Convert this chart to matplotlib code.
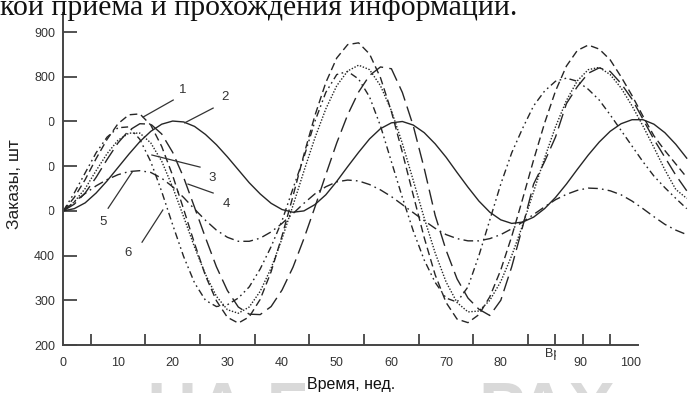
import matplotlib
matplotlib.use("Agg")
import matplotlib.pyplot as plt
from matplotlib.ticker import FixedLocator
from matplotlib.transforms import Bbox, TransformedBbox

plt.rcParams['font.family'] = ['Liberation Sans', 'DejaVu Sans']

# weeks 0..114, every 2 weeks
weeks = list(range(0, 115, 2))

dash_1 = [500, 530, 570, 617, 660, 695, 715,
          717, 692, 644, 579, 504, 427, 355, 299, 262, 249,
          263, 302, 364, 444, 533, 626, 713, 787, 842, 872,
          876, 851, 798, 722, 631, 535, 440, 357, 295, 258,
          250, 268, 308, 368, 443, 527, 614, 696, 768, 824, 859, 871,
          862, 838, 800, 758, 712, 668, 635, 605, 575]

solid_2 = [500, 505, 518, 540, 567, 597, 627, 655, 678, 694, 701,
           699, 689, 671, 648, 621, 592, 563, 538, 517, 503, 497,
           500, 514, 536, 566, 599, 631, 661, 684, 697,
           700, 692, 675, 650, 620, 586, 553, 522, 497, 480, 472,
           475, 486, 505, 530, 560, 593, 625, 654, 678, 695, 704,
           704, 694, 675, 649, 618]

dotted_3 = [500, 520, 550, 590, 628, 658, 674,
            674, 652, 611, 553, 487, 419, 358, 309, 279,
            271, 285, 320, 372, 438, 512, 589, 663, 728, 780, 813, 826,
            816, 780, 724, 651, 568, 484, 406, 341, 295, 274,
            276, 300, 342, 400, 468, 543, 618, 688, 747, 791, 816,
            821, 805, 775, 735, 690, 642, 592, 548, 528]

longdash_4 = [500, 515, 540, 575, 615, 652, 680, 695,
              694, 672, 631, 575, 508, 440, 375, 322, 285, 269,
              268, 286, 323, 374, 438, 508, 581, 652, 715, 766, 803, 822,
              818, 765, 690, 595, 490, 412, 348, 305, 280, 266,
              300, 375, 465, 560, 610, 665, 740, 778, 808, 820,
              812, 785, 750, 705, 660, 620, 580, 545]

dashdot_5 = [500, 520, 539, 556, 570, 581, 588, 590,
             586, 573, 554, 530, 504, 479, 457, 441, 432,
             432, 439, 453, 472, 494, 517, 538, 554, 565, 569,
             567, 559, 547, 532, 514, 496, 478, 461, 447, 438, 433,
             433, 438, 447, 460, 475, 492, 509, 525, 537, 546, 551,
             550, 545, 536, 522, 505, 487, 470, 457, 447]

dashdotdot_6 = [500, 540, 585, 630, 665, 686, 688,
                660, 610, 543, 469, 398, 339, 300, 286,
                290, 305, 330, 370, 420, 478, 550, 620, 700, 765, 805, 812, 795,
                755, 690, 610, 530, 455, 390, 340, 305, 296,
                330, 400, 480, 560, 630, 685, 735, 768, 790, 797, 790,
                772, 748, 715, 680, 645, 610, 578, 552, 528, 505]

# curve numbers with their leader lines (data coords)
curve_ids = ['1', '2', '3', '4', '5', '6']
leader_from = [(14.6, 710), (22.2, 697), (16.2, 625), (22.8, 560), (12.6, 587), (18.2, 502)]
leader_to = [(20.1, 748), (27.4, 730), (25.0, 598), (27.4, 540), (8.2, 506), (14.4, 430)]
id_pos = [(21.9, 770), (29.5, 755), (27.2, 574), (29.9, 515), (7.3, 475), (11.8, 406)]

y_ticks = [200, 300, 400, 500, 600, 700, 800, 900]
x_marks = list(range(5, 101, 5))
x_labels = ['0', '10', '20', '30', '40', '50', '60', '70', '80', '90', '100']
x_label_pos = [0, 10, 20, 30, 40, 50, 60, 70, 80, 94.5, 103.8]

ink = '#262626'

fig = plt.figure(figsize=(6.9, 3.93), dpi=100)
ax = fig.add_axes([63.3 / 690, 48 / 393, 1 - 63.3 / 690, 345 / 393])
ax.set_xlim(0, 114.6)
ax.set_ylim(200, 971.8)

ax.plot(weeks, solid_2, color=ink, lw=1.0, ls='-')
ax.plot(weeks, dash_1, color=ink, lw=1.0, ls=(0, (5.5, 3)))
ax.plot(weeks, dotted_3, color=ink, lw=1.0, ls=(0, (1, 1.2)))
ax.plot(weeks, longdash_4, color=ink, lw=1.0, ls=(0, (11, 4.5)))
ax.plot(weeks, dashdot_5, color=ink, lw=1.0, ls=(0, (7, 3, 1.2, 3)))
ax.plot(weeks, dashdotdot_6, color=ink, lw=1.0, ls=(0, (5, 2.5, 1.2, 2.5, 1.2, 2.5)))

for cid, a, b, p in zip(curve_ids, leader_from, leader_to, id_pos):
    ax.plot([a[0], b[0]], [a[1], b[1]], color='#333333', lw=0.9)
    ax.text(p[0], p[1], cid, fontsize=9.5, color='#333333', ha='center', va='center')

for s in ['top', 'right']:
    ax.spines[s].set_visible(False)
for s in ['left', 'bottom']:
    ax.spines[s].set_color('#444444')
    ax.spines[s].set_linewidth(1.4)
ax.spines['left'].set_bounds(200, 943)
ax.spines['bottom'].set_bounds(0, 105)

ax.set_yticks(y_ticks, [str(v) for v in y_ticks])
ax.tick_params(axis='y', direction='in', length=10, width=1.3, pad=6,
               labelsize=9, labelcolor='#333333', color='#444444')
ax.set_xticks(x_label_pos, x_labels)
ax.xaxis.set_minor_locator(FixedLocator(x_marks))
ax.tick_params(axis='x', which='major', length=0, pad=9,
               labelsize=9, labelcolor='#333333')
ax.tick_params(axis='x', which='minor', direction='in', length=8, width=1.3, color='#444444')

# the 500-700 labels are mostly hidden in the scan
clip = TransformedBbox(Bbox.from_extents(49 / 690, 0, 1, 1), fig.transFigure)
for v, lab in zip(y_ticks, ax.get_yticklabels()):
    if v in (500, 600, 700):
        lab.set_clip_on(True)
        lab.set_clip_box(clip)

fig.text(0.0, 1 - 15 / 393, 'кой приема и прохождения информации.',
         family=['Liberation Serif', 'DejaVu Serif'], fontsize=21.5,
         color='#111111', ha='left', va='baseline')
fig.text(15 / 690, 1 - 184 / 393, 'Заказы, шт', rotation=90, fontsize=12.5,
         color='#222222', ha='center', va='center')

# faint watermark at the bottom
fig.text(147 / 690, 1 - 430 / 393, 'НА Б', fontsize=50, fontweight='bold',
         color='#d9d9d9', ha='left', va='baseline', zorder=0.5)
fig.text(478 / 690, 1 - 430 / 393, 'РАХ', fontsize=50, fontweight='bold',
         color='#d9d9d9', ha='left', va='baseline', zorder=0.5)

fig.text(351 / 690, 1 - 384 / 393, 'Время, нед.', fontsize=11.5, color='#111111',
         ha='center', va='center', zorder=5,
         bbox=dict(facecolor='white', edgecolor='none', pad=1))
frag = fig.text(545 / 690, 1 - 354 / 393, 'Вр', fontsize=9, color='#333333',
                ha='left', va='center')
frag.set_clip_on(True)
frag.set_clip_box(TransformedBbox(Bbox.from_extents(0, 0, 556 / 690, 1), fig.transFigure))

fig.savefig('out.png', dpi=100)
